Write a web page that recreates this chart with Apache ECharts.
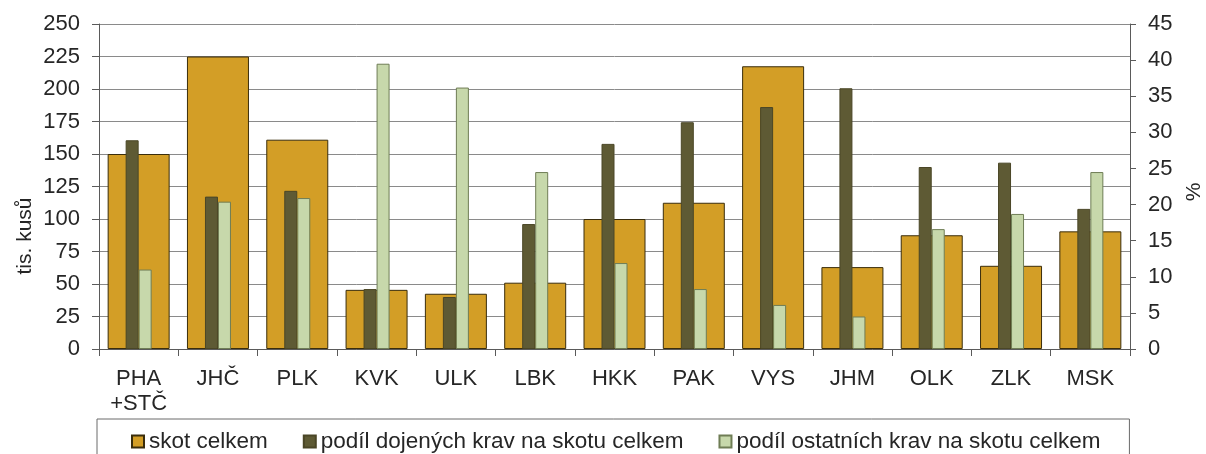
<!DOCTYPE html>
<html>
<head>
<meta charset="utf-8">
<script src="https://cdn.jsdelivr.net/npm/echarts@6/dist/echarts.min.js"></script>
<style>
  html, body { margin: 0; padding: 0; background: #fff; }
  #chart { width: 1206px; height: 454px; }
</style>
</head>
<body>
<div id="chart"></div>
<script>
// kraje
const regions = ['PHA\n+STČ', 'JHČ', 'PLK', 'KVK', 'ULK', 'LBK', 'HKK', 'PAK', 'VYS', 'JHM', 'OLK', 'ZLK', 'MSK']

// skot celkem (tis. kusů), levá osa
const cattleTotal = [150, 225, 161, 45.5, 42.5, 51, 100, 112.5, 217.5, 63, 87.5, 64, 90.5]
// podíl dojených krav na skotu celkem (%), pravá osa
const dairyShare = [28.9, 21.1, 21.9, 8.3, 7.2, 17.3, 28.4, 31.4, 33.5, 36.1, 25.2, 25.8, 19.4]
// podíl ostatních krav na skotu celkem (%), pravá osa
const otherShare = [11.0, 20.4, 20.9, 39.5, 36.2, 24.5, 11.9, 8.3, 6.1, 4.5, 16.6, 18.7, 24.5]

const leftTicks = { min: 0, max: 250, interval: 25 }
const rightTicks = { min: 0, max: 45, interval: 5 }

const FONT = "'Liberation Sans', Arial, sans-serif"
const TXT = '#262626'

const chart = echarts.init(document.getElementById('chart'), null, { renderer: 'canvas' })

chart.setOption({
  animation: false,
  backgroundColor: '#fff',
  textStyle: { fontFamily: FONT, color: TXT },
  grid: { left: 99, right: 76, top: 24, bottom: 105 },
  legend: {
    data: ['skot celkem', 'podíl dojených krav na skotu celkem', 'podíl ostatních krav na skotu celkem'],
    left: 97,
    top: 419,
    icon: 'rect',
    itemWidth: 12,
    itemHeight: 12,
    itemGap: 35,
    padding: [11, 29, 14, 34],
    borderColor: '#6a6a6a',
    borderWidth: 1,
    textStyle: { fontSize: 22.5, color: TXT, fontFamily: FONT },
    selectedMode: false,
  },
  xAxis: [
    {
      type: 'category',
      data: regions,
      axisLine: { lineStyle: { color: '#5a5a5a', width: 1 } },
      axisTick: { show: true, length: 7, lineStyle: { color: '#5a5a5a' } },
      axisLabel: { fontSize: 22, color: TXT, margin: 17, lineHeight: 25, fontFamily: FONT },
    },
    {
      type: 'category',
      data: regions,
      show: false,
    },
  ],
  yAxis: [
    {
      type: 'value',
      ...leftTicks,
      position: 'left',
      axisLine: { show: true, lineStyle: { color: '#5a5a5a' } },
      axisTick: { show: true, length: 7, lineStyle: { color: '#5a5a5a' } },
      axisLabel: { fontSize: 22, color: TXT, margin: 19, fontFamily: FONT },
      splitLine: { show: true, lineStyle: { color: '#8a8a8a', width: 1 } },
    },
    {
      type: 'value',
      ...rightTicks,
      position: 'right',
      axisLine: { show: true, lineStyle: { color: '#5a5a5a' } },
      axisTick: { show: true, length: 6, lineStyle: { color: '#5a5a5a' } },
      axisLabel: { fontSize: 22, color: TXT, margin: 18, fontFamily: FONT },
      splitLine: { show: false },
    },
  ],
  graphic: [
    {
      type: 'text',
      x: 25, y: 236, rotation: Math.PI / 2,
      style: { text: 'tis. kusů', fontSize: 21, fill: TXT, font: `21px ${FONT}`, align: 'center', verticalAlign: 'middle' },
    },
    {
      type: 'text',
      x: 1194, y: 192, rotation: Math.PI / 2,
      style: { text: '%', fontSize: 21, fill: TXT, font: `21px ${FONT}`, align: 'center', verticalAlign: 'middle' },
    },
  ],
  series: [
    {
      name: 'skot celkem',
      type: 'bar',
      xAxisIndex: 0,
      yAxisIndex: 0,
      data: cattleTotal,
      barWidth: 62,
      itemStyle: { color: '#D39E26', borderColor: '#3a2d0c', borderWidth: 1 },
      emphasis: { disabled: true },
      z: 2,
    },
    {
      name: 'podíl dojených krav na skotu celkem',
      type: 'bar',
      xAxisIndex: 1,
      yAxisIndex: 1,
      data: dairyShare,
      barWidth: 13,
      barGap: '0%',
      itemStyle: { color: '#5E5A34', borderColor: '#4a4626', borderWidth: 1 },
      emphasis: { disabled: true },
      z: 3,
    },
    {
      name: 'podíl ostatních krav na skotu celkem',
      type: 'bar',
      xAxisIndex: 1,
      yAxisIndex: 1,
      data: otherShare,
      barWidth: 13,
      barGap: '0%',
      itemStyle: { color: '#C7D8AB', borderColor: '#6f7d55', borderWidth: 1 },
      emphasis: { disabled: true },
      z: 3,
    },
  ],
})
</script>
</body>
</html>
